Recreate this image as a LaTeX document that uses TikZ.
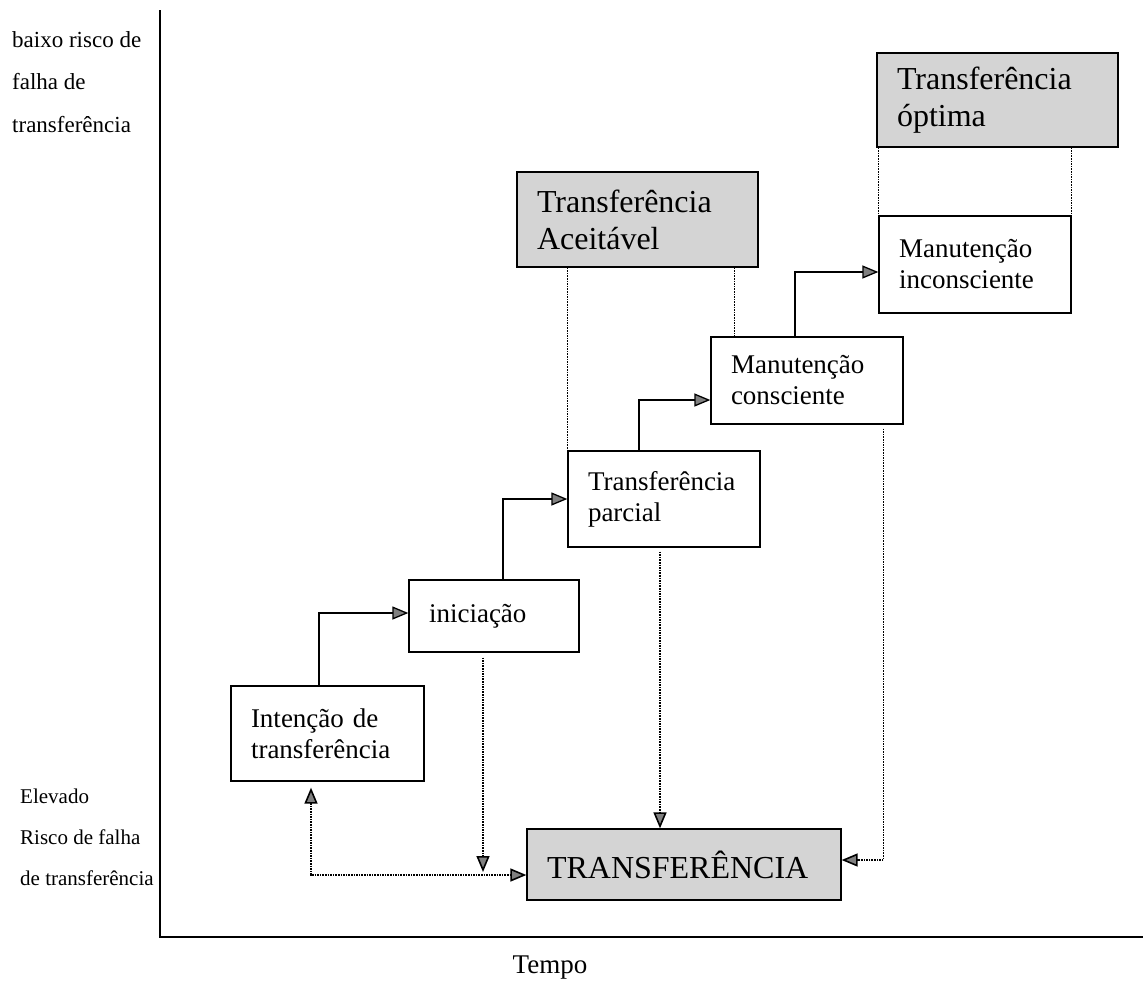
\documentclass[tikz,border=0pt]{standalone}
\usepackage{fontspec}
\setmainfont{Liberation Serif}
\usetikzlibrary{arrows.meta}

\begin{document}
\begin{tikzpicture}[
            x=1pt, y=-1pt,
            tip/.style = {-{Triangle[length=16pt, width=13pt, fill=gray]}},
            bothtips/.style = {{Triangle[length=16pt, width=13pt, fill=gray]}-{Triangle[length=16pt, width=13pt, fill=gray]}},
            stage/.style = {shape=rectangle, draw=black, line width=1.3pt, fill=white, align=left, inner xsep=20pt, inner ysep=0pt, font=\fontsize{27}{31}\selectfont},
            target/.style = {stage, fill=black!17, font=\fontsize{32}{37}\selectfont},
            stepline/.style = {line width=1.3pt, tip},
            guide/.style = {densely dotted, line width=1.6pt, black},
            axlabel/.style = {align=left, inner sep=0pt, anchor=north west}
          ]
          \useasboundingbox (0,0) rectangle (1145,989);
          % axes
          \coordinate (ytop) at (160,10);
          \coordinate (origin) at (160,937);
          \coordinate (xend) at (1143,937);
          \draw[line width=1.2pt] (ytop) -- (origin) -- (xend);
          \node[axlabel, font=\fontsize{23}{42.5}\selectfont] (lowrisk) at (12,31) {baixo risco de\\falha de\\transferência};
          \node[axlabel, font=\fontsize{21}{41}\selectfont] (highrisk) at (20,789) {Elevado\\Risco de falha\\de transferência};
          \node[inner sep=0pt, font=\fontsize{27}{30}\selectfont] (tempo) at (550,968) {Tempo};
          % stages
          \node[stage, text width=153pt, minimum height=95pt] (intencao) at (327.5,733.5) {Intenção de\\transferência};
          \node[stage, text width=130pt, minimum height=72pt] (iniciacao) at (494,616) {iniciação};
          \node[stage, text width=152pt, minimum height=96pt] (parcial) at (664,499) {Transferência\\parcial};
          \node[stage, text width=152pt, minimum height=87pt] (consciente) at (807,380.5) {Manutenção\\consciente};
          \node[stage, text width=152pt, minimum height=97pt] (inconsciente) at (975,264.5) {Manutenção\\inconsciente};
          \node[target, text width=201pt, minimum height=95pt] (aceitavel) at (637.5,219.5) {Transferência\\Aceitável};
          \node[target, text width=201pt, minimum height=94pt] (optima) at (997.5,100) {Transferência\\óptima};
          \node[target, text width=274pt, minimum height=71pt] (transf) at (684,864.5) {TRANSFERÊNCIA};
          % steps
          \draw[stepline] ([xshift=-8.5pt]intencao.north) |- ([yshift=3pt]iniciacao.west);
          \draw[stepline] ([xshift=9pt]iniciacao.north) |- (parcial.west);
          \draw[stepline] ([xshift=-25pt]parcial.north) |- ([yshift=-19.5pt]consciente.west);
          \draw[stepline] ([xshift=-12pt]consciente.north) |- ([yshift=-7.5pt]inconsciente.west);
          % dotted guides
          \coordinate (accright) at ([xshift=-24pt]aceitavel.south east);
          \draw[guide] (aceitavel.south -| parcial.north west) -- (parcial.north west);
          \draw[guide] (accright) -- (accright |- consciente.north);
          \draw[guide] (inconsciente.north west |- optima.south) -- (inconsciente.north west);
          \draw[guide] (inconsciente.north east |- optima.south) -- (inconsciente.north east);
          \coordinate (drop) at (483,872);
          \draw[guide, tip] ([xshift=-11pt, yshift=-5pt]iniciacao.south) -- (drop);
          \draw[guide, bothtips] ([xshift=-16.5pt, yshift=-6pt]intencao.south) |- ([yshift=-10.5pt]transf.west);
          \coordinate (pdrop) at ([xshift=-4pt]parcial.south);
          \draw[guide, tip] ([yshift=-4pt]pdrop) -- (pdrop |- transf.north);
          \draw[guide, tip] ([xshift=-20pt, yshift=-4pt]consciente.south east) |- ([yshift=4.5pt]transf.east);
        \end{tikzpicture}
\end{document}
